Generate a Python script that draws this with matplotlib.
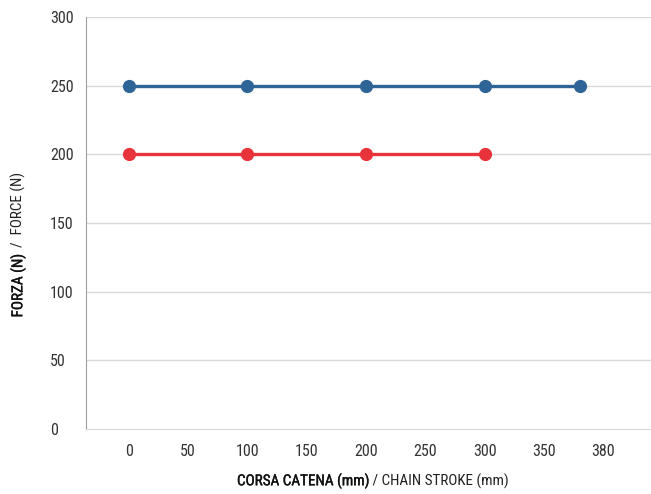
import matplotlib
matplotlib.use("Agg")
import matplotlib.pyplot as plt
import matplotlib.patheffects as pe
from matplotlib import font_manager

# Data
x_blue = [0, 100, 200, 300, 380]
y_blue = [250, 250, 250, 250, 250]
x_red = [0, 100, 200, 300]
y_red = [200, 200, 200, 200]
xtick_pos = [0, 50, 100, 150, 200, 250, 300, 350, 400]
xtick_labels = ["0", "50", "100", "150", "200", "250", "300", "350", "380"]
yticks = [0, 50, 100, 150, 200, 250, 300]

names = {f.name for f in font_manager.fontManager.ttflist}
fam = "Roboto"
for cand in ["Roboto Condensed", "Liberation Sans Narrow", "Open Sans Condensed", "Roboto"]:
    if cand in names:
        fam = cand
        break
plt.rcParams['font.family'] = [fam, 'DejaVu Sans']

W, H = 651, 494
fig = plt.figure(figsize=(W/100, H/100), dpi=100)
ax = fig.add_axes([86/W, 1-429/H, 1-86/W, (429-17)/H])

ax.set_xlim(-36, 440)
ax.set_ylim(0, 300)

for yv in yticks[1:]:
    ax.axhline(yv, color='#d9d9d9', lw=1, zorder=1)

ax.plot(x_blue, y_blue, color='#2e6496', lw=2.4, marker='o', ms=8.5, zorder=3)
ax.plot(x_red, y_red, color='#e8333a', lw=2.4, marker='o', ms=8.5, zorder=3)

for s in ['top', 'right']:
    ax.spines[s].set_visible(False)
ax.spines['left'].set_color('#a0a0a0')
ax.spines['bottom'].set_color('#d9d9d9')

ax.set_xticks(xtick_pos)
ax.set_xticklabels(xtick_labels)
ax.set_yticks(yticks)
ax.set_yticklabels([str(v) for v in yticks], ha='left')
ax.tick_params(axis='both', length=0, labelsize=11.5, colors='#333333')
ax.tick_params(axis='x', pad=11)
ax.tick_params(axis='y', pad=26)

heavy = [pe.withStroke(linewidth=0.25, foreground='#111111')]
# x label
fig.text(369/W, 1-481/H, "CORSA CATENA (mm)", ha='right', va='center',
         fontsize=10.9, color='#111111', path_effects=heavy)
fig.text(369/W, 1-481/H, " / CHAIN STROKE (mm)", ha='left', va='center',
         fontsize=10.9, color='#222222')
# y label
fig.text(18/W, 1-254/H, "FORZA (N)", rotation=90, ha='center', va='top',
         fontsize=10.9, color='#111111', path_effects=heavy)
fig.text(18/W, 1-254/H, "  /  FORCE (N)", rotation=90, ha='center', va='bottom',
         fontsize=10.9, color='#222222')

fig.savefig("out.png", dpi=100)
